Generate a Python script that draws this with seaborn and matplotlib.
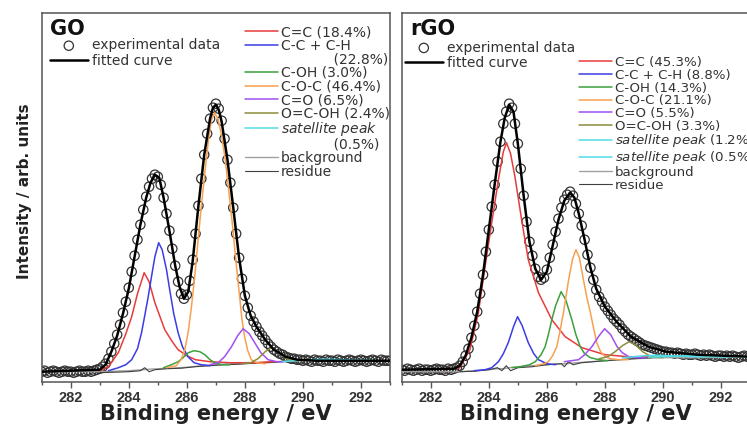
import numpy as np
import matplotlib
matplotlib.use('Agg')
import matplotlib.pyplot as plt
from matplotlib.lines import Line2D
import seaborn as sns

# binding energy grid of the measured points (eV)
energy = np.round(np.arange(281.0, 293.05, 0.1), 1)

# ---------------- GO ----------------
go_exp = [10, 11, 9, 10, 11, 10, 9, 10, 11, 10,
          10, 9, 10, 11, 10, 10, 11, 10, 11, 12,
          13, 15, 18, 23, 30, 38, 47, 57, 69, 80,
          94, 110, 126, 142, 157, 172, 185, 195, 203, 207,
          205, 197, 184, 168, 151, 133, 116, 100, 88, 83,
          87, 101, 122, 148, 176, 203, 227, 248, 263, 274,
          278, 273, 261, 243, 222, 199, 174, 148, 124, 103,
          86, 74, 66, 60, 55, 50, 46, 42, 38, 35,
          32, 30, 28, 27, 25, 24, 23, 23, 22, 22,
          21, 22, 21, 20, 22, 21, 21, 20, 22, 21,
          21, 20, 22, 21, 20, 21, 22, 21, 20, 21,
          22, 21, 20, 21, 22, 21, 20, 22, 21, 21,
          21]
go_fit_x = [281, 283, 283.2, 283.4, 283.6, 283.8, 284.0, 284.2, 284.4, 284.6, 284.75,
            284.9, 285.05, 285.2, 285.4, 285.6, 285.75, 285.9, 286.05, 286.2, 286.4,
            286.6, 286.8, 286.9, 287.0, 287.1, 287.2, 287.4, 287.6, 287.8, 288.0,
            288.2, 288.4, 288.7, 289.0, 289.4, 289.8, 290.5, 293]
go_fit_y = [10, 12, 17, 30, 46, 68, 93, 125, 157, 184, 199,
            207, 204, 184, 151, 116, 95, 83, 90, 120, 176,
            227, 263, 274, 277, 272, 260, 222, 174, 124, 86,
            66, 55, 42, 32, 25, 22, 21, 21]

go_cc_x = [283.0, 283.3, 283.64, 283.9, 284.1, 284.3, 284.53, 284.7, 284.9, 285.24,
           285.5, 285.7, 286.0, 286.3, 286.8, 287.5, 288.3, 289.0]
go_cc_y = [11, 15, 29, 48, 65, 88, 109, 100, 79, 52,
           40, 32, 26, 22, 20, 19, 19, 20]
go_cch_x = [283.3, 283.64, 283.9, 284.1, 284.3, 284.44, 284.55, 284.67, 284.8, 284.9,
            285.03, 285.15, 285.3, 285.41, 285.55, 285.7, 285.85, 286.04, 286.25, 286.5, 286.8]
go_cch_y = [11, 14, 17, 22, 33, 49, 66, 85, 108, 125,
            139, 132, 112, 92, 68, 49, 35, 25, 19, 17, 16]
go_coh_x = [285.2, 285.47, 285.7, 285.87, 286.05, 286.25, 286.45, 286.62, 286.8, 286.96, 287.2, 287.5]
go_coh_y = [14, 17, 20, 24, 29, 31, 30, 27, 22, 19, 17, 17]
go_coc_x = [285.3, 285.64, 285.8, 285.93, 286.05, 286.16, 286.28, 286.39, 286.5, 286.62,
            286.75, 286.85, 286.96, 287.08, 287.2, 287.31, 287.45, 287.59, 287.7, 287.82,
            287.9, 287.99, 288.1, 288.22, 288.4, 288.7]
go_coc_y = [14, 16, 22, 32, 50, 75, 107, 142, 176, 209,
            243, 262, 269, 262, 246, 225, 190, 152, 118, 85,
            62, 45, 31, 22, 19, 18]
go_co_x = [286.8, 287.08, 287.3, 287.54, 287.75, 287.94, 288.15, 288.34, 288.55, 288.8, 289.1, 289.4]
go_co_y = [17, 19, 25, 35, 46, 53, 48, 39, 29, 22, 20, 20]
go_ocoh_x = [287.9, 288.2, 288.45, 288.7, 288.91, 289.1, 289.3, 289.5, 289.8]
go_ocoh_y = [18, 19, 23, 30, 34, 31, 26, 22, 21]
go_sat_x = [289.3, 289.7, 290.2, 290.8, 291.4, 292.0, 292.4]
go_sat_y = [20, 21, 22, 22.5, 22, 21.5, 21.5]
go_bg_x = [281, 283, 283.5, 284, 284.5, 284.7, 285, 285.5, 286, 286.5,
           287, 287.5, 288, 288.5, 289, 289.5, 290, 291, 293]
go_bg_y = [10, 10, 10.5, 11, 12, 12.5, 13, 13.5, 14.5, 16,
           17, 18, 18.5, 19, 20, 20.5, 21, 21, 21]
go_res_x = [283.0, 283.5, 284.0, 284.4, 284.55, 284.7, 284.9, 285.3, 285.8, 286.3,
            286.8, 287.3, 287.8, 288.3, 288.8, 289.3]
go_res_y = [9, 9.5, 10, 11, 14, 10, 12, 13, 13.5, 15,
            16, 17, 17.5, 18.5, 19, 20]

# ---------------- rGO ----------------
rgo_exp = [12, 11, 13, 12, 11, 12, 13, 11, 12, 12,
           11, 12, 13, 12, 12, 11, 13, 12, 13, 14,
           16, 20, 26, 33, 44, 56, 70, 88, 107, 130,
           152, 175, 197, 220, 240, 258, 270, 278, 274, 258,
           238, 213, 186, 160, 140, 126, 113, 105, 102, 104,
           112, 124, 137, 150, 163, 174, 182, 187, 190, 186,
           178, 168, 156, 142, 127, 114, 102, 92, 85, 80,
           75, 71, 67, 63, 60, 57, 53, 50, 47, 45,
           43, 41, 39, 37, 36, 35, 34, 33, 32, 31,
           30, 30, 29, 29, 28, 29, 28, 27, 28, 27,
           27, 28, 27, 26, 27, 26, 27, 26, 25, 26,
           26, 25, 26, 25, 26, 25, 24, 25, 26, 25,
           25]
rgo_fit_x = [281, 282.8, 283.0, 283.2, 283.4, 283.6, 283.8, 284.0, 284.2, 284.4, 284.55,
             284.7, 284.85, 285.0, 285.2, 285.4, 285.6, 285.8, 286.0, 286.2, 286.4,
             286.6, 286.8, 286.95, 287.1, 287.3, 287.5, 287.7, 288.0, 288.4, 288.9,
             289.5, 290.1, 291.2, 293]
rgo_fit_y = [12, 13, 16, 26, 44, 70, 107, 152, 197, 240, 264,
             277, 270, 238, 186, 140, 113, 102, 110, 136, 162,
             181, 189, 184, 168, 142, 114, 93, 75, 60, 45,
             35, 30, 27, 25]

rgo_cc_x = [282.5, 283.0, 283.35, 283.64, 283.87, 284.1, 284.33, 284.5, 284.61, 284.75,
            284.9, 285.13, 285.36, 285.71, 286.17, 286.63, 287.21, 288.0, 288.8, 289.5]
rgo_cc_y = [12, 14, 32, 69, 115, 159, 202, 230, 239, 228,
            205, 162, 122, 89, 62, 45, 34, 27, 25, 25]
rgo_cch_x = [283.5, 283.87, 284.1, 284.33, 284.5, 284.67, 284.85, 284.99, 285.15, 285.36,
             285.55, 285.71, 286.0, 286.3]
rgo_cch_y = [11, 12, 14, 20, 28, 39, 55, 65, 56, 39,
             28, 22, 18, 17]
rgo_coh_x = [284.8, 285.1, 285.4, 285.6, 285.8, 285.94, 286.05, 286.17, 286.3, 286.49,
             286.65, 286.86, 287.0, 287.15, 287.3, 287.5, 287.8, 288.1]
rgo_coh_y = [14, 15, 17, 20, 27, 35, 47, 62, 76, 90,
             82, 62, 47, 35, 28, 24, 22, 21]
rgo_coc_x = [285.6, 285.9, 286.05, 286.2, 286.34, 286.45, 286.57, 286.75, 286.88, 287.0,
             287.12, 287.26, 287.38, 287.5, 287.62, 287.72, 287.85, 288.01, 288.2, 288.47, 288.8]
rgo_coc_y = [16, 18, 20, 26, 35, 50, 69, 102, 122, 132,
             124, 102, 84, 69, 52, 39, 30, 25, 23, 22, 22]
rgo_co_x = [286.6, 287.09, 287.3, 287.55, 287.8, 287.99, 288.2, 288.42, 288.6, 288.82, 289.1, 289.4]
rgo_co_y = [20, 22, 27, 35, 46, 53, 47, 35, 29, 25, 24, 24]
rgo_ocoh_x = [287.8, 288.1, 288.35, 288.6, 288.83, 289.05, 289.3, 289.6, 290.0]
rgo_ocoh_y = [23, 25, 30, 36, 40, 37, 30, 25, 24]
rgo_sat1_x = [288.6, 289.0, 289.4, 289.8, 290.2, 290.6, 291.0, 291.6, 292.2]
rgo_sat1_y = [24, 25, 26, 26.5, 26, 25.5, 25, 25, 24.5]
rgo_sat2_x = [289.5, 290.0, 290.5, 291.0, 291.5, 292.0, 292.5, 293.0]
rgo_sat2_y = [24.5, 25, 25.5, 26, 26, 25.5, 25, 25]
rgo_bg_x = [281, 282, 283, 283.5, 284.0, 284.3, 284.5, 284.7, 285.0, 285.5,
            286.0, 286.5, 286.7, 287.0, 287.5, 288.0, 288.5, 289.0, 290, 291, 293]
rgo_bg_y = [10, 10, 10, 11, 12, 13, 13, 14, 15, 16,
            17, 18, 18, 19, 20, 21, 22, 23, 24, 24, 24.5]
rgo_res_x = [283.0, 283.5, 284.0, 284.3, 284.45, 284.6, 284.75, 285.0, 285.5, 286.0,
             286.5, 286.6, 286.75, 286.9, 287.2, 287.6, 288.0, 288.5, 289.0, 289.6]
rgo_res_y = [10, 10.5, 12, 14, 11, 16, 11, 14, 15, 17,
             18, 15, 20, 17, 19, 20, 21, 22, 23, 24]

go_labels = ['C=C (18.4%)', 'C-C + C-H', '            (22.8%)', 'C-OH (3.0%)', 'C-O-C (46.4%)',
             'C=O (6.5%)', 'O=C-OH (2.4%)', r'$\it{satellite\ peak}$', '            (0.5%)',
             'background', 'residue']
rgo_labels = ['C=C (45.3%)', 'C-C + C-H (8.8%)', 'C-OH (14.3%)', 'C-O-C (21.1%)', 'C=O (5.5%)',
              'O=C-OH (3.3%)', r'$\it{satellite\ peak}$ (1.2%)', r'$\it{satellite\ peak}$ (0.5%)',
              'background', 'residue']

c_red = '#e83c3c'
c_blue = '#3c3ce6'
c_green = '#3ca03c'
c_orange = '#f8a050'
c_purple = '#a050f0'
c_olive = '#8c8c3c'
c_cyan = '#50dce6'
c_bg = '#a0a0a0'
c_res = '#404040'

sns.set_style('ticks')
plt.rcParams['font.family'] = ['DejaVu Sans']
plt.rcParams['mathtext.fontset'] = 'dejavusans'

fig = plt.figure(figsize=(7.47, 4.32), dpi=100)
ax1 = fig.add_axes([0.0558, 0.1164, 0.4663, 0.8528])
ax2 = fig.add_axes([0.5378, 0.1164, 0.4663, 0.8528])


def line(ax, x, y, color, lw=1.1, z=3):
    sns.lineplot(x=x, y=y, ax=ax, color=color, linewidth=lw, zorder=z, legend=False)
    return ax.lines[-1]


def blank():
    return Line2D([], [], linestyle='none')


def style_axes(ax, title):
    ax.set_xlim(281, 293)
    ax.set_ylim(0, 368.4)
    ax.set_xticks([282, 284, 286, 288, 290, 292])
    ax.set_xticks([281, 283, 285, 287, 289, 291, 293], minor=True)
    ax.set_yticks([])
    ax.tick_params(axis='x', which='major', direction='out', length=4, width=1,
                   color='#555555', pad=2.5, labelsize=10.5, labelcolor='#333333', bottom=True, top=False)
    ax.tick_params(axis='x', which='minor', direction='out', length=2.5, width=1,
                   color='#555555', bottom=True, top=False)
    for lbl in ax.get_xticklabels():
        lbl.set_fontfamily('Liberation Sans')
        lbl.set_fontweight('bold')
    for s in ax.spines.values():
        s.set_color('#555555')
        s.set_linewidth(1.1)
    ax.set_xlabel('Binding energy / eV', fontsize=15, fontweight='bold', color='#222222')
    ax.xaxis.set_label_coords(0.5, -0.06)
    ax.set_ylabel('')
    ax.text(0.025, 0.941, title, transform=ax.transAxes, fontsize=15,
            fontweight='bold', va='baseline', color='#111111')


# ---- GO panel ----
ax = ax1
sns.scatterplot(x=energy, y=go_exp, ax=ax, s=45, facecolors='none', edgecolor='#333333',
                linewidth=0.9, zorder=2, legend=False)
h_exp = ax.collections[-1]
h_bg = line(ax, go_bg_x, go_bg_y, c_bg, 1.0)
h_res = line(ax, go_res_x, go_res_y, c_res, 0.8)
h_cc = line(ax, go_cc_x, go_cc_y, c_red)
h_cch = line(ax, go_cch_x, go_cch_y, c_blue)
h_coh = line(ax, go_coh_x, go_coh_y, c_green)
h_coc = line(ax, go_coc_x, go_coc_y, c_orange)
h_co = line(ax, go_co_x, go_co_y, c_purple)
h_ocoh = line(ax, go_ocoh_x, go_ocoh_y, c_olive)
h_sat = line(ax, go_sat_x, go_sat_y, c_cyan)
h_fit = line(ax, go_fit_x, go_fit_y, 'black', 1.8, 4)

leg_a = ax.legend([h_exp, h_fit], ['experimental data', 'fitted curve'], loc='upper left',
                  bbox_to_anchor=(0.024, 0.932), frameon=False, fontsize=10, handlelength=2.7,
                  handletextpad=0.3, labelspacing=0.1, borderpad=0, borderaxespad=0,
                  labelcolor='#333333')
ax.add_artist(leg_a)
ax.legend([h_cc, h_cch, blank(), h_coh, h_coc, h_co, h_ocoh, h_sat, blank(), h_bg, h_res],
          go_labels, loc='upper left', bbox_to_anchor=(0.584, 0.968), frameon=False,
          fontsize=10, handlelength=2.4, handletextpad=0.2, labelspacing=-0.03,
          borderpad=0, borderaxespad=0, labelcolor='#333333')
style_axes(ax, 'GO')
ax.set_ylabel('Intensity / arb. units', fontsize=11, fontweight='bold', color='#222222')
ax.yaxis.set_label_coords(-0.028, 0.516)

# ---- rGO panel ----
ax = ax2
sns.scatterplot(x=energy, y=rgo_exp, ax=ax, s=45, facecolors='none', edgecolor='#333333',
                linewidth=0.9, zorder=2, legend=False)
h_exp = ax.collections[-1]
h_bg = line(ax, rgo_bg_x, rgo_bg_y, c_bg, 1.0)
h_res = line(ax, rgo_res_x, rgo_res_y, c_res, 0.8)
h_cc = line(ax, rgo_cc_x, rgo_cc_y, c_red)
h_cch = line(ax, rgo_cch_x, rgo_cch_y, c_blue)
h_coh = line(ax, rgo_coh_x, rgo_coh_y, c_green)
h_coc = line(ax, rgo_coc_x, rgo_coc_y, c_orange)
h_co = line(ax, rgo_co_x, rgo_co_y, c_purple)
h_ocoh = line(ax, rgo_ocoh_x, rgo_ocoh_y, c_olive)
h_sat1 = line(ax, rgo_sat1_x, rgo_sat1_y, c_cyan)
h_sat2 = line(ax, rgo_sat2_x, rgo_sat2_y, c_cyan)
h_fit = line(ax, rgo_fit_x, rgo_fit_y, 'black', 1.8, 4)

leg_a = ax.legend([h_exp, h_fit], ['experimental data', 'fitted curve'], loc='upper left',
                  bbox_to_anchor=(0.0095, 0.926), frameon=False, fontsize=10, handlelength=2.7,
                  handletextpad=0.3, labelspacing=0.1, borderpad=0, borderaxespad=0,
                  labelcolor='#333333')
ax.add_artist(leg_a)
ax.legend([h_cc, h_cch, h_coh, h_coc, h_co, h_ocoh, h_sat1, h_sat2, h_bg, h_res],
          rgo_labels, loc='upper left', bbox_to_anchor=(0.508, 0.884), frameon=False,
          fontsize=9.6, handlelength=2.5, handletextpad=0.2, labelspacing=-0.02,
          borderpad=0, borderaxespad=0, labelcolor='#333333')
style_axes(ax, 'rGO')

fig.savefig('out.png', dpi=100)
